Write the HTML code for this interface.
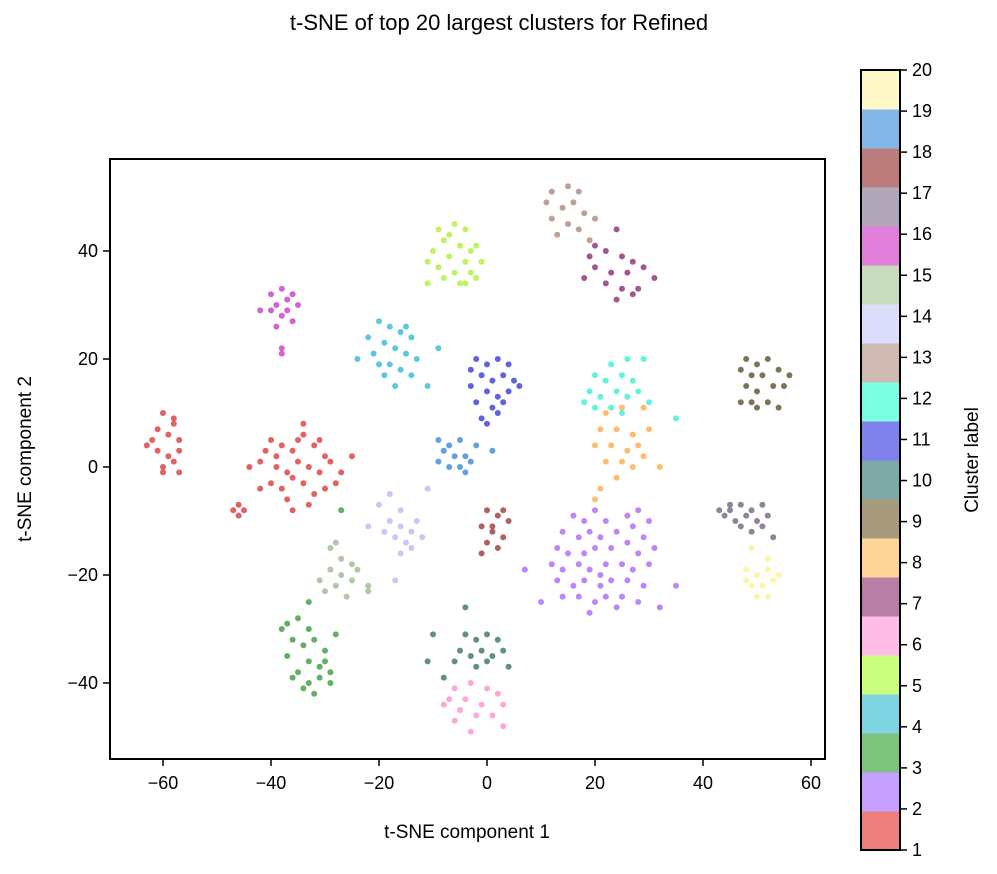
<!DOCTYPE html>
<html><head><meta charset="utf-8"><style>
body{margin:0;background:#fff;}
svg{display:block;font-family:"Liberation Sans","DejaVu Sans",sans-serif;}
</style></head><body>
<svg id="chart" width="997" height="874" viewBox="0 0 997 874">
<text x="499" y="30" font-size="22" text-anchor="middle">t-SNE of top 20 largest clusters for Refined</text>
<g id="points"></g>
<rect x="110" y="159" width="715" height="600" fill="none" stroke="#000" stroke-width="2"/>
<g id="axes"></g>
<text x="467" y="838" font-size="19" text-anchor="middle">t-SNE component 1</text>
<text transform="translate(31,459) rotate(-90)" font-size="19" text-anchor="middle">t-SNE component 2</text>
<g id="cbar"></g>
<text transform="translate(978,460) rotate(-90)" font-size="19" text-anchor="middle">Cluster label</text>
</svg>
<script>
const xTicks=[-60,-40,-20,0,20,40,60];
const yTicks=[-40,-20,0,20,40];
const cbarLabels=[1,2,3,4,5,6,7,8,9,10,11,12,13,14,15,16,17,18,19,20];
const cbarColors=["#ec7e7c","#c5a0ff","#7fc47e","#7fd4e1","#ccfe7d","#ffbde6","#b77fa6","#ffd497","#a89b7d","#7daaa6","#8181ee","#7dffe2","#cfb9b3","#dcdcfb","#c8dbbd","#e07fdc","#b0a8b8","#bb7d7b","#85b6e8","#fff8c8"];
const pointColors=["#d62020","#9a55f5","#1f8f1f","#17b0cc","#a0f020","#ff80cc","#7a1060","#ffa030","#4a3610","#1d5f5a","#2020d0","#20f0c8","#a07868","#b0b0f0","#90b080","#c020c0","#605070","#8b2020","#1f78d4","#fff080"];
const c1=[[-40,5],[-38,4],[-36,3],[-34,6],[-32,4],[-30,2],[-42,1],[-39,0],[-37,-1],[-35,1],[-33,0],[-31,-1],[-29,1],[-40,-3],[-38,-4],[-36,-2],[-34,-3],[-32,-5],[-30,-4],[-28,-3],[-41,3],[-35,5],[-33,-7],[-36,-8],[-39,2],[-31,5],[-27,-1],[-42,-4],[-34,8],[-37,-6],[-25,2],[-44,0],[-60,10],[-58,9],[-61,7],[-59,6],[-57,5],[-63,4],[-61,3],[-59,2],[-58,1],[-60,0],[-57,-1],[-62,5],[-58,8],[-60,-1],[-57,3],[-46,-7],[-47,-8],[-46,-9],[-45,-8]];
const c2=[[16,-9],[18,-10],[20,-8],[22,-10],[26,-9],[28,-8],[30,-10],[14,-12],[17,-13],[19,-12],[21,-13],[24,-12],[27,-11],[29,-13],[13,-15],[15,-16],[18,-16],[20,-15],[23,-15],[26,-14],[28,-16],[31,-15],[12,-18],[14,-19],[17,-18],[19,-19],[22,-18],[25,-18],[27,-19],[30,-18],[13,-21],[16,-22],[18,-21],[21,-22],[23,-21],[26,-21],[29,-22],[14,-24],[17,-24],[20,-25],[22,-24],[25,-24],[28,-25],[19,-27],[24,-26],[10,-25],[7,-19],[35,-22],[32,-26],[21,-20]];
const c3=[[-37,-29],[-35,-28],[-33,-30],[-36,-32],[-34,-33],[-32,-32],[-30,-34],[-37,-35],[-33,-36],[-31,-37],[-29,-38],[-35,-38],[-33,-40],[-31,-39],[-29,-40],[-34,-41],[-32,-42],[-36,-39],[-28,-31],[-30,-36],[-38,-30],[-27,-8],[-33,-25]];
const c4=[[-20,27],[-18,26],[-16,25],[-14,24],[-19,23],[-17,22],[-15,21],[-21,21],[-18,19],[-16,18],[-14,17],[-19,17],[-17,15],[-13,20],[-22,24],[-15,26],[-11,15],[-24,20],[-9,22],[-20,19]];
const c5=[[-9,44],[-6,45],[-4,44],[-8,42],[-5,41],[-3,40],[-10,40],[-7,39],[-4,38],[-2,41],[-9,37],[-6,36],[-3,36],[-8,35],[-5,34],[-11,34],[-1,38],[-7,43],[-11,38],[-2,35],[-4,34]];
const c6=[[-6,-41],[-3,-40],[0,-41],[2,-42],[-7,-43],[-4,-43],[-1,-44],[3,-44],[-5,-45],[-2,-46],[1,-46],[3,-48],[-6,-47],[-3,-49],[-8,-44]];
const c7=[[20,41],[24,44],[22,40],[25,39],[27,38],[20,37],[23,36],[26,36],[29,37],[18,35],[22,34],[25,33],[28,33],[31,35],[24,31],[27,32],[19,39]];
const c8=[[22,10],[25,11],[29,11],[21,7],[24,7],[27,6],[30,7],[20,4],[23,4],[26,3],[28,4],[22,1],[25,1],[27,0],[24,-2],[21,-4],[20,-6],[32,0],[29,2]];
const c9=[[48,20],[50,19],[52,20],[47,18],[49,17],[51,17],[54,18],[56,17],[48,15],[50,14],[53,15],[55,15],[49,12],[52,12],[50,11],[54,11],[47,12]];
const c10=[[-4,-31],[-2,-32],[0,-31],[2,-32],[-5,-34],[-3,-35],[-1,-34],[1,-35],[3,-34],[-6,-36],[-2,-37],[0,-36],[4,-37],[-8,-39],[-4,-26],[-11,-36],[-10,-31]];
const c11=[[-2,20],[0,19],[2,20],[4,19],[-1,17],[1,16],[3,17],[5,16],[-3,15],[0,14],[2,13],[4,14],[-2,12],[1,11],[3,12],[6,15],[-1,9],[0,8],[2,10],[-3,18]];
const c12=[[23,19],[26,20],[29,20],[20,17],[22,16],[25,17],[27,16],[19,14],[21,13],[24,14],[26,13],[28,14],[20,11],[23,11],[25,10],[18,12],[30,12],[35,9]];
const c13=[[12,51],[15,52],[17,51],[11,49],[14,48],[16,49],[18,47],[12,46],[15,45],[17,44],[20,46],[13,43],[19,42]];
const c14=[[-18,-5],[-16,-8],[-18,-10],[-16,-11],[-14,-12],[-17,-13],[-15,-14],[-13,-10],[-19,-12],[-16,-16],[-14,-15],[-20,-7],[-12,-13],[-17,-21],[-11,-4],[-22,-11]];
const c15=[[-29,-15],[-27,-17],[-25,-18],[-29,-19],[-27,-20],[-25,-21],[-28,-22],[-30,-23],[-26,-24],[-22,-22],[-22,-23],[-31,-21],[-28,-14],[-24,-19]];
const c16=[[-40,32],[-38,33],[-36,32],[-39,30],[-37,29],[-35,30],[-38,28],[-36,27],[-40,29],[-42,29],[-37,31],[-39,26],[-38,22],[-38,21]];
const c17=[[43,-8],[45,-7],[47,-7],[49,-8],[51,-7],[44,-9],[46,-10],[48,-9],[50,-10],[52,-9],[47,-11],[49,-12],[51,-11],[53,-13],[45,-8]];
const c18=[[0,-8],[2,-9],[4,-10],[-1,-11],[1,-12],[3,-13],[0,-14],[2,-15],[-1,-16],[1,-11],[3,-8]];
const c19=[[-9,5],[-7,4],[-5,5],[-8,3],[-6,2],[-4,2],[-5,0],[-3,1],[-7,0],[-4,-1],[-9,1],[1,3],[-2,4]];
const c20=[[49,-15],[52,-17],[48,-19],[50,-20],[52,-19],[54,-20],[49,-22],[51,-22],[53,-21],[50,-24],[52,-24],[48,-21]];
const clusters=[c1,c2,c3,c4,c5,c6,c7,c8,c9,c10,c11,c12,c13,c14,c15,c16,c17,c18,c19,c20];

const NS="http://www.w3.org/2000/svg";
const sx=v=>487+v*5.4;
const sy=v=>467-v*5.4;
function mk(tag,attrs,parent){const e=document.createElementNS(NS,tag);for(const k in attrs)e.setAttribute(k,attrs[k]);parent.appendChild(e);return e;}
const pg=document.getElementById('points');
clusters.forEach((pts,ci)=>{
  pts.forEach(p=>{
    const c=mk('circle',{cx:sx(p[0]),cy:sy(p[1]),r:3,fill:pointColors[ci],'fill-opacity':0.7},pg);
    
    
  });
});
const ax=document.getElementById('axes');
xTicks.forEach(t=>{
  const l=mk('line',{x1:sx(t),x2:sx(t),y1:759,y2:766,stroke:'#000','stroke-width':1.5},ax);
  
  
  const tx=mk('text',{x:sx(t),y:789,'font-size':18,'text-anchor':'middle'},ax);
  tx.textContent=t<0?'\u2212'+(-t):t;
  
  
});
yTicks.forEach(t=>{
  const l=mk('line',{x1:103,x2:110,y1:sy(t),y2:sy(t),stroke:'#000','stroke-width':1.5},ax);
  
  
  const tx=mk('text',{x:98,y:sy(t)+6,'font-size':18,'text-anchor':'end'},ax);
  tx.textContent=t<0?'\u2212'+(-t):t;
  
  
});
const cb=document.getElementById('cbar');
const cbTop=70,cbBot=850;
const band=(cbBot-cbTop)/cbarColors.length;
const step=(cbBot-cbTop)/(cbarLabels.length-1);
cbarColors.forEach((c,i)=>{
  const r=mk('rect',{x:861,y:cbBot-(i+1)*band,width:39,height:band+0.5,fill:c},cb);
  
  
});
const fr=mk('rect',{x:861,y:cbTop,width:39,height:cbBot-cbTop,fill:'none',stroke:'#000','stroke-width':2},cb);


cbarLabels.forEach((v,i)=>{
  const y=cbBot-i*step;
  const l=mk('line',{x1:900,x2:907,y1:y,y2:y,stroke:'#000','stroke-width':1.5},cb);
  
  
  const tx=mk('text',{x:912,y:y+6,'font-size':18},cb);
  tx.textContent=v;
  
  
});
</script>
</body></html>
